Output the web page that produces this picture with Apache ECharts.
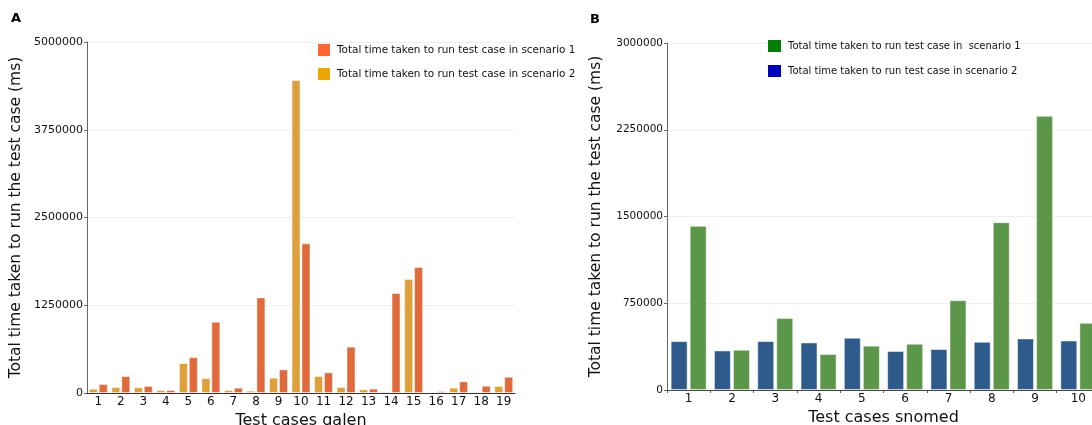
<!DOCTYPE html>
<html>
<head>
<meta charset="utf-8">
<script src="https://cdn.jsdelivr.net/npm/echarts@6/dist/echarts.min.js"></script>
<style>
  html, body { margin: 0; padding: 0; background: #fff; }
  #chart { width: 1092px; height: 425px; }
</style>
</head>
<body>
<div id="chart"></div>
<script>
// 左图 galen
var galenCases = ['1','2','3','4','5','6','7','8','9','10','11','12','13','14','15','16','17','18','19'];
var galenScenario1 = [128000, 242000, 100000, 43000, 510000, 1015000, 76000, 1362000, 336000, 2132000,
                      294000, 660000, 62000, 1424000, 1795000, 28000, 166000, 104000, 232000];
var galenScenario2 = [60000, 85000, 82000, 43000, 427000, 212000, 43000, 33000, 218000, 4459000,
                      242000, 85000, 52000, 23000, 1624000, 14000, 76000, 19000, 100000];

// 右图 snomed
var snomedCases = ['1','2','3','4','5','6','7','8','9','10'];
var snomedScenario1 = [1419000, 348000, 622000, 311000, 383000, 400000, 777000, 1451000, 2370000, 581000];
var snomedScenario2 = [423000, 342000, 423000, 411000, 452000, 337000, 354000, 417000, 446000, 428000];

var galenTicks = [0, 1250000, 2500000, 3750000, 5000000];
var snomedTicks = [0, 750000, 1500000, 2250000, 3000000];

var nameG1 = 'Total time taken to run test case in scenario 1';
var nameG2 = 'Total time taken to run test case in scenario 2';
var nameS1 = 'Total time taken to run test case in  scenario 1';
var nameS2 = 'Total time taken to run test case in scenario 2 ';

var font = 'DejaVu Sans';
var chart = echarts.init(document.getElementById('chart'));

function yAxisOf(gridIndex, ticks, labelSize) {
  return {
    type: 'value',
    gridIndex: gridIndex,
    min: ticks[0],
    max: ticks[ticks.length - 1],
    interval: ticks[1] - ticks[0],
    name: 'Total time taken to run the test case (ms)',
    nameLocation: 'middle',
    nameGap: 63,
    nameTextStyle: { fontFamily: font, fontSize: 15.5, color: '#111' },
    axisLine: { show: true, lineStyle: { color: '#666', width: 1 } },
    axisTick: { show: true, length: 3, lineStyle: { color: '#666' } },
    axisLabel: {
      fontFamily: font, fontSize: labelSize, color: '#111', margin: 4,
      formatter: function (v) { return String(v); }
    },
    splitLine: { show: true, lineStyle: { color: '#efefef', width: 1 } }
  };
}

var option = {
  animation: false,
  backgroundColor: '#fff',
  title: [
    { text: 'A', left: 6, top: 7, textStyle: { fontFamily: font, fontSize: 13, fontWeight: 'bold', color: '#000' } },
    { text: 'B', left: 585, top: 8, textStyle: { fontFamily: font, fontSize: 13, fontWeight: 'bold', color: '#000' } }
  ],
  legend: [
    {
      orient: 'vertical',
      left: 318, top: 44, padding: 0,
      itemWidth: 12, itemHeight: 12, itemGap: 12,
      icon: 'rect',
      textStyle: { fontFamily: font, fontSize: 10.4, color: '#111', padding: [0, 0, 0, 2] },
      data: [
        { name: nameG1, itemStyle: { color: '#FF6633', borderWidth: 0 } },
        { name: nameG2, itemStyle: { color: '#EBA700', borderWidth: 0 } }
      ]
    },
    {
      orient: 'vertical',
      left: 768, top: 40, padding: 0,
      itemWidth: 13, itemHeight: 12, itemGap: 13,
      icon: 'rect',
      textStyle: { fontFamily: font, fontSize: 10, color: '#111', padding: [0, 0, 0, 2] },
      data: [
        { name: nameS1, itemStyle: { color: '#008000', borderWidth: 0 } },
        { name: nameS2, itemStyle: { color: '#0000C0', borderWidth: 0 } }
      ]
    }
  ],
  grid: [
    { left: 87, top: 42, width: 428, bottom: 32, containLabel: false, outerBoundsMode: 'none' },
    { left: 667, top: 43, width: 433, bottom: 35, containLabel: false, outerBoundsMode: 'none' }
  ],
  xAxis: [
    {
      type: 'category', gridIndex: 0, data: galenCases,
      name: 'Test cases galen', nameLocation: 'middle', nameGap: 16,
      nameTextStyle: { fontFamily: font, fontSize: 16, color: '#111' },
      axisLine: { lineStyle: { color: '#333', width: 1 } },
      axisTick: { show: false },
      axisLabel: { fontFamily: font, fontSize: 12, color: '#111', margin: 3 }
    },
    {
      type: 'category', gridIndex: 1, data: snomedCases,
      name: 'Test cases snomed', nameLocation: 'middle', nameGap: 15,
      nameTextStyle: { fontFamily: font, fontSize: 16, color: '#111' },
      axisLine: { lineStyle: { color: '#444', width: 1 } },
      axisTick: { show: true, length: 3, lineStyle: { color: '#555' } },
      axisLabel: { fontFamily: font, fontSize: 12, color: '#111', margin: 3 }
    }
  ],
  yAxis: [
    yAxisOf(0, galenTicks, 11),
    yAxisOf(1, snomedTicks, 10.5)
  ],
  series: [
    {
      name: nameG2, type: 'bar', xAxisIndex: 0, yAxisIndex: 0,
      data: galenScenario2, barWidth: 9, barGap: '10%',
      itemStyle: { color: '#DEA03A', borderColor: 'rgba(255,255,255,0.45)', borderWidth: 1 }
    },
    {
      name: nameG1, type: 'bar', xAxisIndex: 0, yAxisIndex: 0,
      data: galenScenario1, barWidth: 9, barGap: '10%',
      itemStyle: { color: '#E06A3B', borderColor: 'rgba(255,255,255,0.45)', borderWidth: 1 }
    },
    {
      name: nameS2, type: 'bar', xAxisIndex: 1, yAxisIndex: 1,
      data: snomedScenario2, barWidth: 17, barGap: '12%',
      itemStyle: { color: '#2E5A8C', borderColor: 'rgba(255,255,255,0.5)', borderWidth: 1 }
    },
    {
      name: nameS1, type: 'bar', xAxisIndex: 1, yAxisIndex: 1,
      data: snomedScenario1, barWidth: 17, barGap: '12%',
      itemStyle: { color: '#5C9648', borderColor: 'rgba(255,255,255,0.5)', borderWidth: 1 }
    }
  ]
};

chart.setOption(option);
</script>
</body>
</html>
